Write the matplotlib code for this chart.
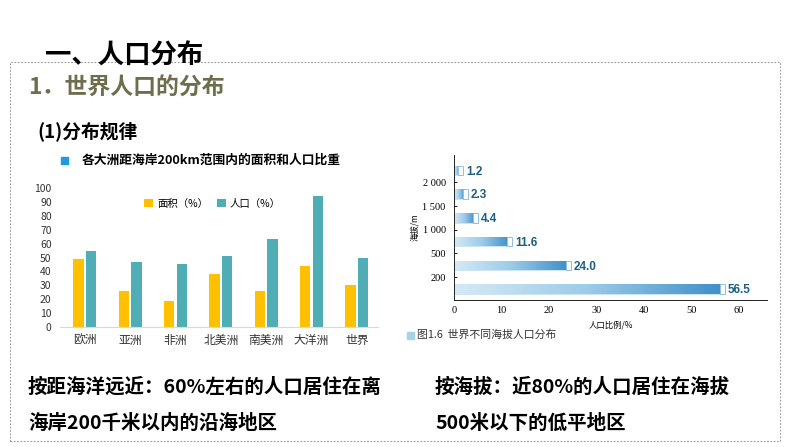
import matplotlib.pyplot as plt
import numpy as np
from matplotlib.patches import Rectangle
from matplotlib.colors import LinearSegmentedColormap

plt.rcParams['font.family'] = ['Noto Sans CJK SC', 'DejaVu Sans']

# 左图：各大洲距海岸200km范围内的面积和人口比重
continents = ["欧洲", "亚洲", "非洲", "北美洲", "南美洲", "大洋洲", "世界"]
area_pct = [49, 26, 19, 38, 26, 44, 30]
pop_pct = [55, 47, 45, 51, 63, 94, 50]

# 右图：世界不同海拔人口分布
alt_values = [56.5, 24.0, 11.6, 4.4, 2.3, 1.2]
alt_ticks = ["200", "500", "1 000", "1 500", "2 000"]

W, H = 794, 447
fig = plt.figure(figsize=(W / 100, H / 100), dpi=100)
fig.patch.set_facecolor("white")


def px(x0, y0, x1, y1):
    # 像素坐标 -> figure 坐标
    return [x0 / W, 1 - y1 / H, (x1 - x0) / W, (y1 - y0) / H]


# 虚线边框
border = Rectangle((10 / W, 1 - 441 / H), 770 / W, (441 - 62) / H,
                   transform=fig.transFigure, fill=False, ec="#9a9a9a",
                   lw=0.8, ls=(0, (1.5, 1.5)))
fig.add_artist(border)

# 标题
fig.text(45 / W, 1 - 56 / H, "一、人口分布", fontsize=19, weight="heavy",
         va="center", ha="left", color="black")
fig.text(28 / W, 1 - 88 / H, "1．世界人口的分布", fontsize=16.5, weight="heavy",
         va="center", ha="left", color="#6e6d4c")
fig.text(37 / W, 1 - 131 / H, "(1)分布规律", fontsize=13.5, weight="heavy",
         va="center", ha="left", color="black")

# 左图标题
fig.add_artist(Rectangle((61 / W, 1 - 164 / H), 7 / W, 7 / H,
                         transform=fig.transFigure, color="#1e9be0"))
fig.text(82 / W, 1 - 160 / H, "各大洲距海岸200km范围内的面积和人口比重",
         fontsize=9.2, weight="heavy", va="center", ha="left")

# 左图
ax1 = fig.add_axes(px(60, 188, 378, 327))
x = np.arange(len(continents))
bw = 0.23
ax1.bar(x - 0.14, area_pct, bw, color="#ffc000", label="面积（%）")
ax1.bar(x + 0.14, pop_pct, bw, color="#4fadb5", label="人口（%）")
ax1.set_xlim(-0.55, 6.47)
ax1.set_ylim(0, 100)
ax1.set_yticks(range(0, 101, 10))
ax1.set_xticks(x)
ax1.set_xticklabels(continents, fontsize=8.5, color="#333333")
ax1.tick_params(axis="y", labelsize=7.5, length=0, colors="#333333", pad=6)
ax1.tick_params(axis="x", length=0, pad=5)
for s in ["top", "right", "left"]:
    ax1.spines[s].set_visible(False)
ax1.spines["bottom"].set_color("#d9d9d9")
ax1.legend(loc="upper center", bbox_to_anchor=(0.48, 0.99), ncol=2, frameon=False,
           fontsize=7.5, handlelength=0.8, handleheight=0.8, columnspacing=0.9,
           handletextpad=0.4)

# 右图
ax2 = fig.add_axes(px(454, 155, 767, 300))
y = np.arange(len(alt_values))
bars = ax2.barh(y, alt_values, height=0.4, color="#8cc3e3", ec="#cfe5f2", lw=0.6)
cmap = LinearSegmentedColormap.from_list("blu", ["#d6eaf6", "#9ccbe8", "#3f8fc8"])
grad = np.linspace(0, 1, 256).reshape(1, -1)
for b in bars:
    bx, by = b.get_x(), b.get_y()
    im = ax2.imshow(grad, cmap=cmap, aspect="auto", zorder=2,
                    extent=[bx, bx + b.get_width(), by, by + b.get_height()])
    im.set_clip_path(b)
    cap = Rectangle((bx + b.get_width() - 0.4, by), 1.1, b.get_height(),
                    fc="white", ec="#8fc1df", lw=0.7, zorder=3)
    ax2.add_patch(cap)
for yi, v in zip(y, alt_values):
    ax2.text(v + 1.3, yi - 0.05, f"{v:.1f}", fontsize=8.5, color="#1c5f82",
             va="center", ha="left", family="Liberation Sans", weight="bold")
ax2.set_xlim(0, 66)
ax2.set_ylim(-0.46, 5.65)
ax2.set_xticks(range(0, 61, 10))
ax2.set_yticks(y[:-1] + 0.5)
ax2.set_yticklabels(alt_ticks)
for lab in ax2.get_xticklabels() + ax2.get_yticklabels():
    lab.set_family("Liberation Serif")
    lab.set_fontsize(7.5)
ax2.tick_params(axis="y", direction="in", length=2, width=0.6, pad=6)
ax2.tick_params(axis="x", length=0, pad=4)
for s in ["top", "right"]:
    ax2.spines[s].set_visible(False)
for s in ["left", "bottom"]:
    ax2.spines[s].set_linewidth(0.7)
    ax2.spines[s].set_color("#222222")
ax2.set_xlabel("人口比例/%", fontsize=6, labelpad=4)
ax2.set_ylabel("海拔/m", fontsize=6, labelpad=2)

fig.add_artist(Rectangle((407 / W, 1 - 339 / H), 7 / W, 7 / H,
                         transform=fig.transFigure, color="#a6d3e6"))
fig.text(417 / W, 1 - 335 / H, "图1.6  世界不同海拔人口分布", fontsize=7.8,
         va="center", ha="left", color="#333333")

# 底部文字
fig.text(28 / W, 1 - 387 / H, "按距海洋远近：60%左右的人口居住在离", fontsize=14,
         weight="heavy", va="center", ha="left")
fig.text(28 / W, 1 - 423 / H, "海岸200千米以内的沿海地区", fontsize=14,
         weight="heavy", va="center", ha="left")
fig.text(435 / W, 1 - 387 / H, "按海拔：近80%的人口居住在海拔", fontsize=14,
         weight="heavy", va="center", ha="left")
fig.text(435 / W, 1 - 423 / H, "500米以下的低平地区", fontsize=14,
         weight="heavy", va="center", ha="left")

fig.savefig("out.png", dpi=100)
